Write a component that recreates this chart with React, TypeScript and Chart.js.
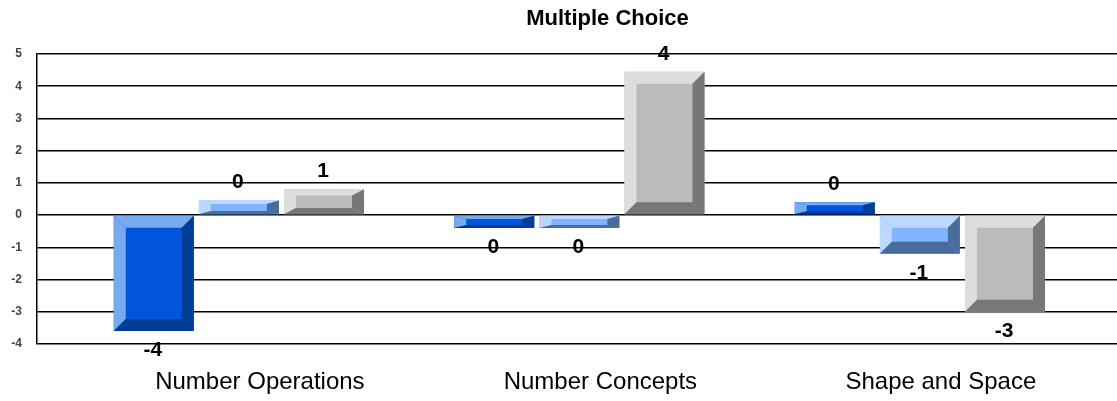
import React, { useEffect, useRef } from 'react';
import { Chart, registerables } from 'chart.js';

Chart.register(...registerables);

const chartTitle = 'Multiple Choice';
const categories = ['Number Operations', 'Number Concepts', 'Shape and Space'];
const seriesA = [-3.6, -0.4, 0.4];
const seriesB = [0.45, -0.4, -1.2];
const seriesC = [0.8, 4.45, -3.0];
const yMin = -4;
const yMax = 5;

const palette = [
  { front: '#0055dd', light: '#77aaee', dark: '#003d99' },
  { front: '#80b4ff', light: '#bbd9ff', dark: '#4a6c9c' },
  { front: '#bbbbbb', light: '#dddddd', dark: '#777777' },
];

const FONT = "'Liberation Sans', Arial, Helvetica, sans-serif";

function poly(ctx: CanvasRenderingContext2D, pts: number[][], color: string) {
  ctx.beginPath();
  ctx.moveTo(pts[0][0], pts[0][1]);
  for (let i = 1; i < pts.length; i++) ctx.lineTo(pts[i][0], pts[i][1]);
  ctx.closePath();
  ctx.fillStyle = color;
  ctx.fill();
}

const bevelPlugin = {
  id: 'bevelBars',
  afterDatasetsDraw(chart: any) {
    const ctx: CanvasRenderingContext2D = chart.ctx;
    ctx.save();
    chart.data.datasets.forEach((ds: any, di: number) => {
      const meta = chart.getDatasetMeta(di);
      const pal = palette[di];
      meta.data.forEach((el: any) => {
        const { x, y, base, width } = el.getProps(['x', 'y', 'base', 'width'], true);
        const l = x - width / 2;
        const r = x + width / 2;
        const t = Math.min(y, base);
        const b = Math.max(y, base);
        const h = b - t;
        const bv = h < 30 ? Math.max(2, h * 0.25) : 12;
        const bw = h < 30 ? 12 : 12;
        poly(ctx, [[l, t], [r, t], [r - bw, t + bv], [l + bw, t + bv]], pal.light);
        poly(ctx, [[l, t], [l + bw, t + bv], [l + bw, b - bv], [l, b]], pal.light);
        poly(ctx, [[r, t], [r, b], [r - bw, b - bv], [r - bw, t + bv]], pal.dark);
        poly(ctx, [[l, b], [l + bw, b - bv], [r - bw, b - bv], [r, b]], pal.dark);
      });
    });
    ctx.restore();
  },
};

const valueLabelPlugin = {
  id: 'valueLabels',
  afterDatasetsDraw(chart: any) {
    const ctx: CanvasRenderingContext2D = chart.ctx;
    ctx.save();
    ctx.font = `bold 21px ${FONT}`;
    ctx.fillStyle = '#000';
    ctx.textAlign = 'center';
    ctx.textBaseline = 'middle';
    chart.data.datasets.forEach((ds: any, di: number) => {
      const meta = chart.getDatasetMeta(di);
      meta.data.forEach((el: any, i: number) => {
        const v = ds.data[i].y;
        const { x, y } = el.getProps(['x', 'y'], true);
        const ty = v >= 0 ? y - 18 : y + 19;
        ctx.fillText(String(Math.round(v)), x - 1, ty);
      });
    });
    ctx.restore();
  },
};

const titlePlugin = {
  id: 'offsetTitle',
  afterDraw(chart: any) {
    const ctx: CanvasRenderingContext2D = chart.ctx;
    ctx.save();
    ctx.font = `bold 22px ${FONT}`;
    ctx.fillStyle = '#000';
    ctx.textAlign = 'center';
    ctx.textBaseline = 'middle';
    ctx.fillText(chartTitle, chart.width / 2 + 49, 19);
    ctx.restore();
  },
};

export default function App() {
  const canvasRef = useRef<HTMLCanvasElement | null>(null);

  useEffect(() => {
    if (!canvasRef.current) return;
    const series = [seriesA, seriesB, seriesC];
    const chart = new Chart(canvasRef.current, {
      type: 'bar',
      data: {
        datasets: series.map((s, di) => ({
          label: `Series ${di + 1}`,
          data: s.map((v, i) => ({ x: i, y: v })),
          backgroundColor: palette[di].front,
          borderWidth: 0,
          categoryPercentage: 0.75,
          barPercentage: 0.94,
        })),
      },
      options: {
        animation: false,
        responsive: true,
        maintainAspectRatio: false,
        layout: { padding: { top: 54, left: 0, right: 0, bottom: 0 } },
        plugins: {
          legend: { display: false },
          tooltip: { enabled: false },
          title: { display: false },
        },
        scales: {
          x: {
            type: 'linear',
            offset: false,
            min: -0.593,
            max: 2.579,
            afterBuildTicks: (scale: any) => {
              scale.ticks = categories.map((_, i) => ({ value: i }));
            },
            afterFit: (scale: any) => {
              scale.height = 57;
            },
            grid: { display: false, drawTicks: false },
            border: { display: false },
            ticks: {
              callback: (v: any) => categories[Math.round(Number(v))] ?? '',
              font: { family: FONT, size: 24 },
              color: '#000',
              padding: 24,
              labelOffset: 21,
              maxRotation: 0,
              autoSkip: false,
            },
          },
          y: {
            min: yMin,
            max: yMax,
            afterFit: (scale: any) => {
              scale.width = 37;
            },
            grid: { color: '#000', lineWidth: 1.5, drawTicks: false },
            border: { display: true, color: '#000', width: 1.5 },
            ticks: {
              stepSize: 1,
              font: { family: FONT, size: 12, weight: 'bold' },
              color: '#444',
              padding: 15,
            },
          },
        },
      } as any,
      plugins: [bevelPlugin, valueLabelPlugin, titlePlugin],
    });
    return () => chart.destroy();
  }, []);

  return (
    <div style={{ position: 'absolute', left: 0, top: 0, width: 1117, height: 401, background: '#fff' }}>
      <canvas ref={canvasRef} />
    </div>
  );
}
